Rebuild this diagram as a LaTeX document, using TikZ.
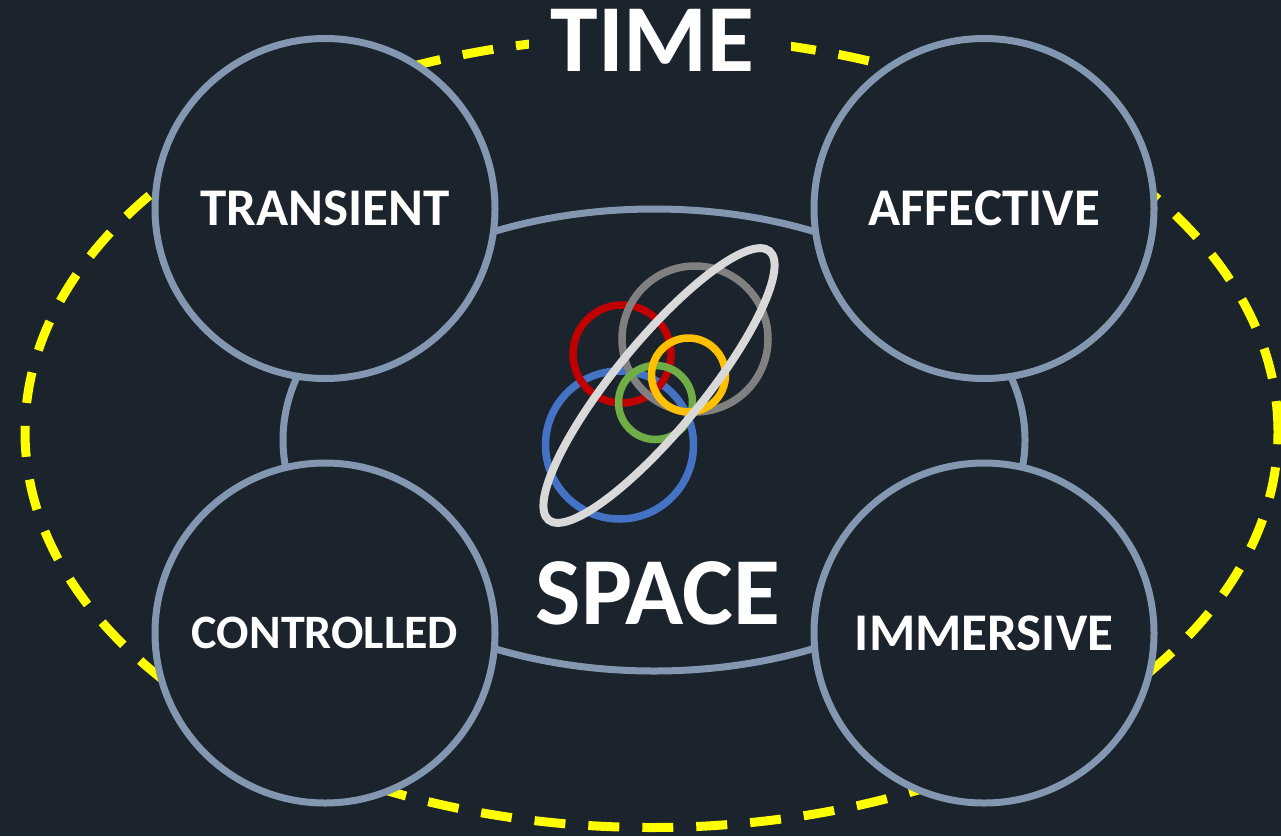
\documentclass[tikz,border=0pt]{standalone}
\usepackage{fontspec}
\setmainfont{Carlito}
\definecolor{bg}{HTML}{1B232C}
\definecolor{ring}{HTML}{8497B0}
\definecolor{ringred}{HTML}{C00000}
\definecolor{ringgray}{HTML}{808080}
\definecolor{ringorange}{HTML}{FFC000}
\definecolor{ringgreen}{HTML}{70AD47}
\definecolor{ringblue}{HTML}{4472C4}
\definecolor{ringwhite}{HTML}{D9D9D9}
\definecolor{dashyellow}{HTML}{FFFF00}
\tikzset{
  bigcircle/.style={circle, draw=ring, line width=7pt, fill=bg, minimum size=340pt, inner sep=0pt,
    text=white, font=\bfseries\fontsize{53}{60}\selectfont},
  bigtitle/.style={text=white, inner sep=0pt, font=\bfseries\fontsize{96}{100}\selectfont},
  smallring/.style={line width=7.5pt}
}
\begin{document}
\begin{tikzpicture}[x=1pt,y=-1pt]
\useasboundingbox (0,0) rectangle (1281,836);
\fill[bg] (0,0) rectangle (1281,836);
% time ellipse
\draw[dashyellow, line width=9pt, dash pattern=on 31pt off 23pt]
  (651.5,432) ellipse [x radius=626.5pt, y radius=395.5pt];
\fill[bg] (529,0) rectangle (791,88);
\node[bigtitle] (time) at (652.5,40) {TIME};
% space ellipse
\draw[ring, line width=7pt] (654,440) ellipse [x radius=371pt, y radius=231pt];
% four circles
\node[bigcircle] (transient) at (325,208.5) {TRANSIENT};
\node[bigcircle] (affective) at (984,208.5) {AFFECTIVE};
\node[bigcircle, font=\bfseries\fontsize{48}{56}\selectfont] (controlled) at (325,633) {CONTROLLED};
\node[bigcircle] (immersive) at (984,633) {IMMERSIVE};
% rings
\draw[smallring, ringblue] (619.5,445) circle [radius=74pt];
\draw[smallring, ringred] (622,354) circle [radius=49pt];
\draw[smallring, ringgray] (695,339) circle [radius=73pt];
\draw[smallring, ringgreen] (655.5,402.5) circle [radius=37pt];
\draw[smallring, ringorange] (688.5,375) circle [radius=37pt];
\begin{scope}[shift={(659,385.5)}, rotate=50.6]
\draw[line width=8pt, ringwhite] (0,0) ellipse [x radius=174pt, y radius=44pt];
\end{scope}
\node[bigtitle] (space) at (658,593) {SPACE};
\end{tikzpicture}
\end{document}
